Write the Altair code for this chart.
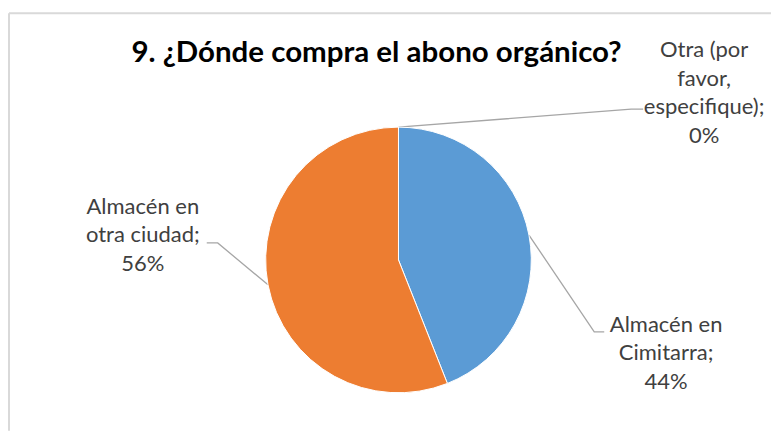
import math
import altair as alt
import pandas as pd

# ---- data ----
categories = ["Almacén en Cimitarra", "Almacén en otra ciudad", "Otra (por favor, especifique)"]
values = [44, 56, 0]
label_lines = [
    ["Almacén en", "Cimitarra;"],
    ["Almacén en", "otra ciudad;"],
    ["Otra (por", "favor,", "especifique);"],
]
colors = ["#5B9BD5", "#ED7D31", "#A5A5A5"]
title_text = "9. ¿Dónde compra el abono orgánico?"

# ---- layout (page pixel coordinates) ----
W, H = 764, 423
XD = [8, 8 + W]
YD = [8, 8 + H]
CX, CY, R = 399, 260, 133
# per category: elbow point, line end, label center x, first baseline
layout = {
    categories[0]: dict(elbow=(595, 332), end=(605, 332), lx=667, ly=332),
    categories[1]: dict(elbow=(218, 243), end=(207, 243), lx=143, ly=214),
    categories[2]: dict(elbow=(632, 109), end=(644, 109), lx=705, ly=57),
}
LINE_H = 28.5
LABEL_FONT = "Lato"
LABEL_SIZE = 22
TEXT_COLOR = "#404040"

xs = alt.Scale(domain=XD, nice=False, zero=False)
ys = alt.Scale(domain=YD, nice=False, zero=False, reverse=True)

# pie
pie_df = pd.DataFrame({"cat": categories, "val": values, "ord": [0, 1, 2]})
pie = alt.Chart(pie_df).mark_arc(radius=R, stroke="white", strokeWidth=1).encode(
    theta=alt.Theta("val:Q", stack=True),
    color=alt.Color("cat:N", scale=alt.Scale(domain=categories, range=colors), legend=None),
    order=alt.Order("ord:Q"),
    x=alt.X(datum=CX, scale=xs, axis=None),
    y=alt.Y(datum=CY, scale=ys, axis=None),
)

# leader lines computed from slice mid-angles
total = sum(values)
rows = []
cum = 0
for c, v in zip(categories, values):
    mid = (cum + v / 2) / total * 2 * math.pi
    cum += v
    ax = CX + R * math.sin(mid)
    ay = CY - R * math.cos(mid)
    L = layout[c]
    for i, (px, py) in enumerate([(ax, ay), L["elbow"], L["end"]]):
        rows.append({"cat": c, "o": i, "px": px, "py": py})
lines_df = pd.DataFrame(rows)
leaders = alt.Chart(lines_df).mark_line(color="#A6A6A6", strokeWidth=1.3).encode(
    x=alt.X("px:Q", scale=xs, axis=None),
    y=alt.Y("py:Q", scale=ys, axis=None),
    detail="cat:N",
    order="o:Q",
)

# labels
trows = []
for c, v, ll in zip(categories, values, label_lines):
    L = layout[c]
    for i, t in enumerate(ll + [f"{v}%"]):
        trows.append({"t": t, "tx": L["lx"], "ty": L["ly"] + i * LINE_H})
text_df = pd.DataFrame(trows)
labels = alt.Chart(text_df).mark_text(
    font=LABEL_FONT, fontSize=LABEL_SIZE, color=TEXT_COLOR, align="center", baseline="alphabetic"
).encode(
    x=alt.X("tx:Q", scale=xs, axis=None),
    y=alt.Y("ty:Q", scale=ys, axis=None),
    text="t:N",
)

# title
title = alt.Chart(pd.DataFrame({"t": [title_text]})).mark_text(
    font=LABEL_FONT, fontSize=29.5, fontWeight="bold", color="#000000", align="center", baseline="alphabetic"
).encode(
    x=alt.X(datum=377, scale=xs, axis=None),
    y=alt.Y(datum=62, scale=ys, axis=None),
    text="t:N",
)

# chart-area border (top and left edges visible)
border_top = alt.Chart(pd.DataFrame({"a": [0]})).mark_rule(color="#D9D9D9", strokeWidth=2).encode(
    x=alt.X(datum=9, scale=xs, axis=None), x2=alt.X2(datum=772),
    y=alt.Y(datum=13, scale=ys, axis=None),
)
border_left = alt.Chart(pd.DataFrame({"a": [0]})).mark_rule(color="#D9D9D9", strokeWidth=2).encode(
    x=alt.X(datum=9, scale=xs, axis=None),
    y=alt.Y(datum=13, scale=ys, axis=None), y2=alt.Y2(datum=431),
)

chart = alt.layer(border_top, border_left, leaders, pie, labels, title).properties(
    width=W, height=H, padding=0
).configure_view(stroke=None)

chart.save("out.html", embed_options={"renderer": "svg", "actions": False})
